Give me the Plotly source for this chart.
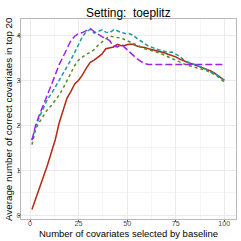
import plotly.graph_objects as go

x_vals = [1, 3, 5, 7, 9, 11, 13, 15, 17, 19, 21, 23, 25, 27, 29, 31, 33, 35, 37, 39,
          41, 43, 45, 47, 49, 51, 53, 55, 57, 59, 61, 63, 65, 67, 69, 71, 73, 75, 77, 79,
          81, 83, 85, 87, 89, 91, 93, 95, 97, 99, 100]

red_vals = [0.13, 0.38, 0.58, 0.85, 1.12, 1.40, 1.68, 2.05, 2.32, 2.60, 2.75, 2.92, 3.00, 3.12, 3.27,
            3.40, 3.45, 3.52, 3.58, 3.70, 3.72, 3.74, 3.80, 3.77, 3.78, 3.80, 3.80, 3.76, 3.74, 3.73,
            3.70, 3.68, 3.66, 3.63, 3.61, 3.58, 3.55, 3.52, 3.47, 3.43, 3.40, 3.37, 3.34, 3.31, 3.28,
            3.25, 3.21, 3.16, 3.10, 3.03, 3.00]

teal_vals = [1.67, 1.98, 2.20, 2.40, 2.58, 2.70, 2.85, 3.00, 3.12, 3.28, 3.45, 3.62, 3.80, 3.97, 4.08,
             4.13, 4.05, 4.08, 4.12, 4.07, 4.06, 4.12, 4.10, 4.06, 4.04, 4.04, 4.00, 3.93, 3.87, 3.80,
             3.76, 3.73, 3.69, 3.67, 3.64, 3.62, 3.63, 3.58, 3.53, 3.46, 3.41, 3.38, 3.35, 3.31, 3.28,
             3.23, 3.19, 3.15, 3.10, 3.03, 3.00]

green_vals = [1.57, 1.93, 2.08, 2.22, 2.35, 2.44, 2.55, 2.67, 2.82, 3.00, 3.15, 3.33, 3.45, 3.52, 3.58,
              3.62, 3.68, 3.78, 3.86, 3.92, 3.98, 3.96, 3.95, 3.94, 3.90, 3.85, 3.82, 3.78, 3.73, 3.70,
              3.68, 3.66, 3.63, 3.60, 3.56, 3.53, 3.48, 3.44, 3.40, 3.36, 3.33, 3.31, 3.29, 3.27, 3.24,
              3.21, 3.17, 3.13, 3.07, 3.00, 2.96]

purple_vals = [1.67, 2.02, 2.25, 2.48, 2.70, 2.90, 3.12, 3.35, 3.52, 3.72, 3.88, 3.98, 4.04, 4.06, 4.10,
               4.15, 4.08, 4.02, 3.97, 3.93, 3.88, 3.76, 3.74, 3.80, 3.72, 3.62, 3.55, 3.48, 3.42, 3.37,
               3.35, 3.35, 3.35, 3.35, 3.35, 3.35, 3.35, 3.35, 3.35, 3.35, 3.35, 3.35, 3.35, 3.35, 3.35,
               3.35, 3.35, 3.35, 3.35, 3.35, 3.35]

x_ticks = [0, 25, 50, 75, 100]
y_ticks = [0, 1, 2, 3, 4]

series = [
    ("baseline", red_vals, "#B22A12", "solid"),
    ("method_a", green_vals, "#5A8A25", "dot"),
    ("method_b", teal_vals, "#1E9A9E", "4px,2.5px"),
    ("method_c", purple_vals, "#A020F0", "7px,3px"),
]

fig = go.Figure()
for name, vals, color, dash in series:
    fig.add_trace(go.Scatter(x=x_vals, y=vals, mode="lines", name=name,
                             line=dict(color=color, width=1.5, dash=dash)))

font_family = "Liberation Sans, Arial, sans-serif"
axis_common = dict(
    showline=True, mirror=True, linecolor="#B8B8B8", linewidth=1,
    showgrid=True, gridcolor="#EBEBEB", gridwidth=1,
    ticks="outside", ticklen=2, tickcolor="#555555", tickwidth=1,
    tickfont=dict(family=font_family, size=7.2, color="#4D4D4D"),
    zeroline=False,
)

fig.update_layout(
    width=241, height=241,
    margin=dict(l=21, r=5, t=19, b=22),
    paper_bgcolor="white", plot_bgcolor="white",
    showlegend=False,
    xaxis=dict(range=[-4.63, 106.0], tickvals=x_ticks, ticktext=[str(v) for v in x_ticks],
               ticklabelstandoff=-5,
               minor=dict(showgrid=True, gridcolor="#F5F5F5", gridwidth=0.6, dtick=12.5, tick0=12.5),
               **axis_common),
    yaxis=dict(range=[-0.082, 4.362], tickvals=y_ticks, ticktext=[str(v) for v in y_ticks],
               ticklabelstandoff=-4,
               minor=dict(showgrid=True, gridcolor="#F5F5F5", gridwidth=0.6, dtick=0.5, tick0=0.5),
               **axis_common),
    annotations=[
        dict(text="Setting:  toeplitz", xref="paper", yref="paper", x=0.5, y=1.0, yshift=6,
             xanchor="center", yanchor="middle", showarrow=False,
             font=dict(family=font_family, size=11.9, color="black")),
        dict(text="Number of covariates selected by baseline", xref="paper", yref="paper",
             x=0.5, y=0, yshift=-14, xanchor="center", yanchor="middle", showarrow=False,
             font=dict(family=font_family, size=9.5, color="black")),
        dict(text="Average number of correct covariates in top 20", xref="paper", yref="paper",
             x=0, y=0.5, xshift=-13, xanchor="center", yanchor="middle", textangle=-90,
             showarrow=False, font=dict(family=font_family, size=9.8, color="black")),
    ],
)

fig.write_html("out.html", config={"displayModeBar": False},
               post_script="document.body.style.margin='0';")
